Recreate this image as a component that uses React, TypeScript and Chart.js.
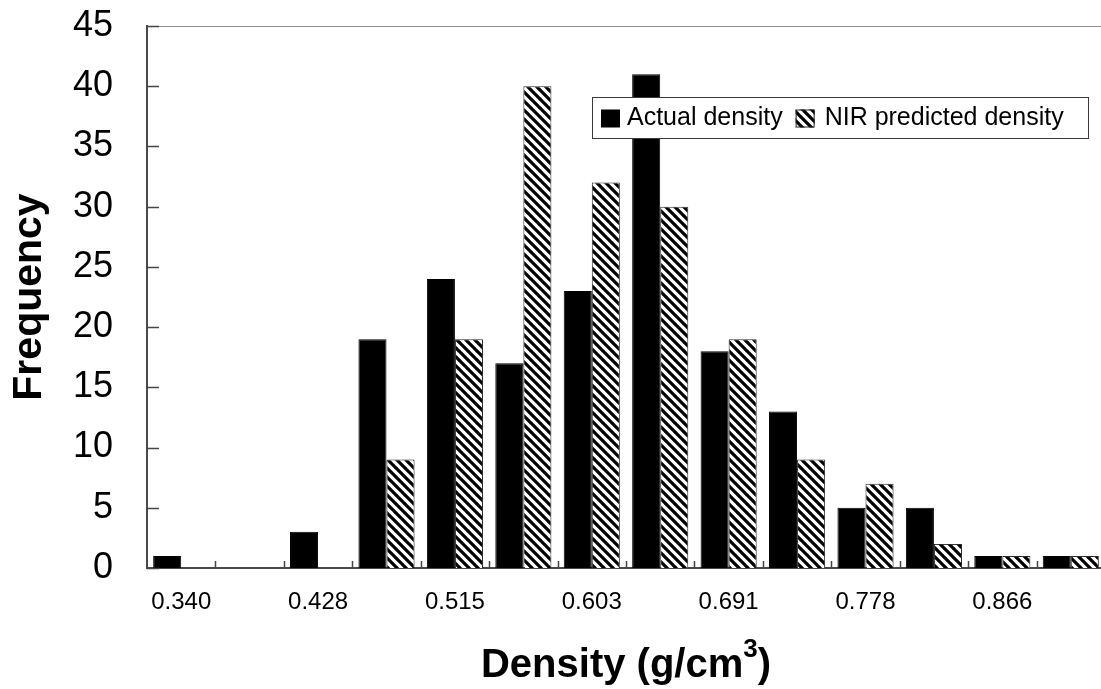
import React, { useEffect, useRef } from 'react';
import { Chart, registerables } from 'chart.js';

Chart.register(...registerables);

// ---- data ----
const categories = ['0.340', '0.384', '0.428', '0.471', '0.515', '0.559', '0.603', '0.647', '0.691', '0.734', '0.778', '0.822', '0.866', '0.909'];
const actualDensity = [1, 0, 3, 19, 24, 17, 23, 41, 18, 13, 5, 5, 1, 1];
const nirPredictedDensity = [0, 0, 0, 9, 19, 40, 32, 30, 19, 9, 7, 2, 1, 1];
const seriesLabels = ['Actual density', 'NIR predicted density'];
const yMin = 0;
const yMax = 45;
const yStep = 5;
const yTitle = 'Frequency';
const xTitleMain = 'Density (g/cm';
const xTitleSup = '3';
const xTitleEnd = ')';

const FONT = '"Liberation Sans", Arial, Helvetica, sans-serif';

function makeHatch(): CanvasPattern | string {
  const size = 9;
  const c = document.createElement('canvas');
  c.width = size;
  c.height = size;
  const g = c.getContext('2d');
  if (!g) return '#888';
  g.fillStyle = '#ffffff';
  g.fillRect(0, 0, size, size);
  g.strokeStyle = '#000000';
  g.lineWidth = 3.2;
  g.beginPath();
  for (const k of [-size, 0, size]) {
    g.moveTo(k - 1, -1);
    g.lineTo(k + size + 1, size + 1);
  }
  g.stroke();
  const p = g.createPattern(c, 'repeat');
  return p || '#888';
}

export default function App() {
  const ref = useRef<HTMLCanvasElement | null>(null);

  useEffect(() => {
    const canvas = ref.current;
    if (!canvas) return;
    const hatch = makeHatch();

    const decor = {
      id: 'decor',
      afterDatasetsDraw(chart: any) {
        const { ctx, chartArea: a, scales } = chart;
        const x = scales.x;
        const y = scales.y;
        ctx.save();
        // top frame line
        ctx.strokeStyle = '#8f8f8f';
        ctx.lineWidth = 1;
        ctx.beginPath();
        ctx.moveTo(a.left, Math.round(a.top) + 0.5);
        ctx.lineTo(a.right + 20, Math.round(a.top) + 0.5);
        ctx.stroke();
        // inward y ticks
        ctx.strokeStyle = '#444';
        ctx.lineWidth = 1.5;
        ctx.beginPath();
        y.ticks.forEach((t: any) => {
          const py = Math.round(y.getPixelForValue(t.value)) + 0.5;
          ctx.moveTo(a.left, py);
          ctx.lineTo(a.left + 12, py);
        });
        // inward x ticks at category boundaries
        for (let i = 1; i < categories.length; i++) {
          const px = Math.round((x.getPixelForValue(i - 1) + x.getPixelForValue(i)) / 2) + 0.5;
          ctx.moveTo(px, a.bottom);
          ctx.lineTo(px, a.bottom - 7);
        }
        ctx.stroke();
        ctx.restore();
      },
      afterDraw(chart: any) {
        const { ctx, chartArea: a } = chart;
        ctx.save();
        // legend box
        const lx = 592;
        const ly = 97;
        const lw = 496;
        const lh = 41;
        ctx.fillStyle = '#ffffff';
        ctx.fillRect(lx, ly, lw, lh);
        ctx.strokeStyle = '#3a3a3a';
        ctx.lineWidth = 1;
        ctx.strokeRect(lx + 0.5, ly + 0.5, lw, lh);
        ctx.font = '25px ' + FONT;
        ctx.textBaseline = 'middle';
        ctx.textAlign = 'left';
        const cy = ly + lh / 2 + 1;
        let cx = lx + 9;
        const ds = chart.data.datasets;
        ds.forEach((d: any, i: number) => {
          ctx.fillStyle = d.backgroundColor;
          ctx.fillRect(cx, cy - 9, 19, 18);
          if (i === 1) {
            ctx.strokeStyle = '#222';
            ctx.strokeRect(cx + 0.5, cy - 9 + 0.5, 18, 17);
          }
          cx += 19 + (i === 0 ? 7 : 10);
          ctx.fillStyle = '#000';
          ctx.fillText(d.label, cx, cy);
          cx += ctx.measureText(d.label).width + 13;
        });
        // x title with superscript
        const fMain = 'bold 40px ' + FONT;
        const fSup = 'bold 26px ' + FONT;
        ctx.font = fMain;
        const w1 = ctx.measureText(xTitleMain).width;
        const w3 = ctx.measureText(xTitleEnd).width;
        ctx.font = fSup;
        const w2 = ctx.measureText(xTitleSup).width;
        const total = w1 + w2 + w3;
        let sx = (a.left + a.right) / 2 - total / 2;
        const base = a.bottom + 109;
        ctx.textBaseline = 'alphabetic';
        ctx.fillStyle = '#000';
        ctx.font = fMain;
        ctx.fillText(xTitleMain, sx, base);
        sx += w1;
        ctx.font = fSup;
        ctx.fillText(xTitleSup, sx, base - 20);
        sx += w2;
        ctx.font = fMain;
        ctx.fillText(xTitleEnd, sx, base);
        ctx.restore();
      },
    };

    const chart = new Chart(canvas, {
      type: 'bar',
      data: {
        labels: categories,
        datasets: [
          {
            label: seriesLabels[0],
            data: actualDensity,
            backgroundColor: '#000000',
            borderColor: '#000000',
            borderWidth: 1,
            categoryPercentage: 0.82,
            barPercentage: 1.0,
          },
          {
            label: seriesLabels[1],
            data: nirPredictedDensity,
            backgroundColor: hatch as any,
            borderColor: '#2a2a2a',
            borderWidth: 1,
            categoryPercentage: 0.82,
            barPercentage: 1.0,
          },
        ],
      },
      options: {
        responsive: false,
        animation: false,
        events: [],
        layout: { padding: { top: 26, right: 7, bottom: 0, left: 0 } },
        plugins: {
          legend: { display: false },
          tooltip: { enabled: false },
          title: { display: false },
        },
        scales: {
          x: {
            type: 'category',
            offset: true,
            grid: { display: false, drawTicks: false, offset: true },
            border: { display: true, color: '#4a4a4a', width: 2 },
            ticks: {
              autoSkip: false,
              maxRotation: 0,
              minRotation: 0,
              padding: 20,
              color: '#000',
              font: { family: FONT, size: 24 },
              callback: (_v: any, i: number) => (i % 2 === 0 ? categories[i] : ''),
            },
            afterFit: (s: any) => {
              s.height = 121;
              s.paddingLeft = 0;
              s.paddingRight = 0;
            },
          },
          y: {
            min: yMin,
            max: yMax,
            grid: { display: false, drawTicks: false },
            border: { display: true, color: '#4a4a4a', width: 2 },
            ticks: {
              stepSize: yStep,
              padding: 34,
              color: '#000',
              font: { family: FONT, size: 36 },
            },
            title: {
              display: true,
              text: yTitle,
              color: '#000',
              font: { family: FONT, size: 41, weight: 'bold' },
              padding: { top: 5, bottom: 0 },
            },
            afterFit: (s: any) => {
              s.width = 147;
              s.paddingTop = 0;
              s.paddingBottom = 0;
            },
          },
        },
      },
      plugins: [decor],
    });

    return () => chart.destroy();
  }, []);

  return (
    <div
      style={{
        position: 'fixed',
        left: 0,
        top: 0,
        width: 1101,
        height: 689,
        overflow: 'hidden',
        background: '#ffffff',
      }}
    >
      <canvas ref={ref} width={1112} height={689} style={{ display: 'block', width: 1112, height: 689 }} />
    </div>
  );
}
